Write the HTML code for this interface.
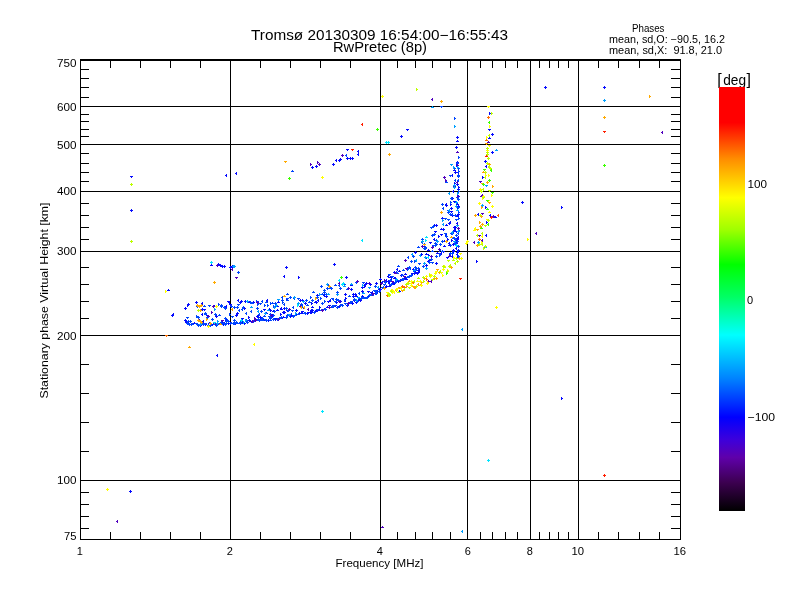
<!DOCTYPE html><html><head><meta charset="utf-8"><title>Ionogram</title><style>html,body{margin:0;padding:0;background:#fff;}svg{display:block;}</style></head><body><svg width="800" height="600" viewBox="0 0 800 600" font-family="'Liberation Sans', Arial, sans-serif" fill="#000"><defs><linearGradient id="cb" x1="0" y1="1" x2="0" y2="0"><stop offset="0.000" stop-color="rgb(0, 0, 0)"/><stop offset="0.067" stop-color="rgb(60, 0, 80)"/><stop offset="0.126" stop-color="rgb(95, 0, 170)"/><stop offset="0.169" stop-color="rgb(60, 0, 220)"/><stop offset="0.221" stop-color="rgb(0, 0, 255)"/><stop offset="0.312" stop-color="rgb(0, 130, 255)"/><stop offset="0.415" stop-color="rgb(0, 255, 255)"/><stop offset="0.505" stop-color="rgb(0, 255, 100)"/><stop offset="0.581" stop-color="rgb(0, 255, 0)"/><stop offset="0.664" stop-color="rgb(160, 255, 0)"/><stop offset="0.739" stop-color="rgb(255, 255, 0)"/><stop offset="0.831" stop-color="rgb(255, 140, 0)"/><stop offset="0.916" stop-color="rgb(255, 0, 0)"/><stop offset="1.000" stop-color="rgb(255, 0, 0)"/></linearGradient></defs><g shape-rendering="crispEdges"><rect x="80" y="59" width="601" height="2" fill="#000"/><rect x="80" y="59" width="1" height="481" fill="#000"/><rect x="680" y="59" width="1" height="481" fill="#000"/><rect x="80" y="539" width="601" height="1" fill="#000"/><rect x="230" y="61" width="1" height="478" fill="#000"/><rect x="380" y="61" width="1" height="478" fill="#000"/><rect x="467" y="61" width="1" height="478" fill="#000"/><rect x="530" y="61" width="1" height="478" fill="#000"/><rect x="578" y="61" width="1" height="478" fill="#000"/><rect x="81" y="106" width="599" height="1" fill="#000"/><rect x="81" y="144" width="599" height="1" fill="#000"/><rect x="81" y="191" width="599" height="1" fill="#000"/><rect x="81" y="251" width="599" height="1" fill="#000"/><rect x="81" y="335" width="599" height="1" fill="#000"/><rect x="81" y="480" width="599" height="1" fill="#000"/><rect x="81" y="69" width="8" height="1" fill="#000"/><rect x="671" y="69" width="9" height="1" fill="#000"/><rect x="81" y="78" width="8" height="1" fill="#000"/><rect x="671" y="78" width="9" height="1" fill="#000"/><rect x="81" y="87" width="8" height="1" fill="#000"/><rect x="671" y="87" width="9" height="1" fill="#000"/><rect x="81" y="97" width="8" height="1" fill="#000"/><rect x="671" y="97" width="9" height="1" fill="#000"/><rect x="81" y="114" width="8" height="1" fill="#000"/><rect x="671" y="114" width="9" height="1" fill="#000"/><rect x="81" y="121" width="8" height="1" fill="#000"/><rect x="671" y="121" width="9" height="1" fill="#000"/><rect x="81" y="129" width="8" height="1" fill="#000"/><rect x="671" y="129" width="9" height="1" fill="#000"/><rect x="81" y="136" width="8" height="1" fill="#000"/><rect x="671" y="136" width="9" height="1" fill="#000"/><rect x="81" y="153" width="8" height="1" fill="#000"/><rect x="671" y="153" width="9" height="1" fill="#000"/><rect x="81" y="163" width="8" height="1" fill="#000"/><rect x="671" y="163" width="9" height="1" fill="#000"/><rect x="81" y="172" width="8" height="1" fill="#000"/><rect x="671" y="172" width="9" height="1" fill="#000"/><rect x="81" y="181" width="8" height="1" fill="#000"/><rect x="671" y="181" width="9" height="1" fill="#000"/><rect x="81" y="203" width="8" height="1" fill="#000"/><rect x="671" y="203" width="9" height="1" fill="#000"/><rect x="81" y="215" width="8" height="1" fill="#000"/><rect x="671" y="215" width="9" height="1" fill="#000"/><rect x="81" y="227" width="8" height="1" fill="#000"/><rect x="671" y="227" width="9" height="1" fill="#000"/><rect x="81" y="239" width="8" height="1" fill="#000"/><rect x="671" y="239" width="9" height="1" fill="#000"/><rect x="81" y="267" width="8" height="1" fill="#000"/><rect x="671" y="267" width="9" height="1" fill="#000"/><rect x="81" y="284" width="8" height="1" fill="#000"/><rect x="671" y="284" width="9" height="1" fill="#000"/><rect x="81" y="301" width="8" height="1" fill="#000"/><rect x="671" y="301" width="9" height="1" fill="#000"/><rect x="81" y="318" width="8" height="1" fill="#000"/><rect x="671" y="318" width="9" height="1" fill="#000"/><rect x="81" y="364" width="8" height="1" fill="#000"/><rect x="671" y="364" width="9" height="1" fill="#000"/><rect x="81" y="393" width="8" height="1" fill="#000"/><rect x="671" y="393" width="9" height="1" fill="#000"/><rect x="81" y="422" width="8" height="1" fill="#000"/><rect x="671" y="422" width="9" height="1" fill="#000"/><rect x="81" y="451" width="8" height="1" fill="#000"/><rect x="671" y="451" width="9" height="1" fill="#000"/><rect x="81" y="492" width="8" height="1" fill="#000"/><rect x="671" y="492" width="9" height="1" fill="#000"/><rect x="81" y="504" width="8" height="1" fill="#000"/><rect x="671" y="504" width="9" height="1" fill="#000"/><rect x="81" y="516" width="8" height="1" fill="#000"/><rect x="671" y="516" width="9" height="1" fill="#000"/><rect x="81" y="528" width="8" height="1" fill="#000"/><rect x="671" y="528" width="9" height="1" fill="#000"/><rect x="110" y="532" width="1" height="7" fill="#000"/><rect x="110" y="61" width="1" height="7" fill="#000"/><rect x="140" y="532" width="1" height="7" fill="#000"/><rect x="140" y="61" width="1" height="7" fill="#000"/><rect x="170" y="532" width="1" height="7" fill="#000"/><rect x="170" y="61" width="1" height="7" fill="#000"/><rect x="200" y="532" width="1" height="7" fill="#000"/><rect x="200" y="61" width="1" height="7" fill="#000"/><rect x="260" y="532" width="1" height="7" fill="#000"/><rect x="260" y="61" width="1" height="7" fill="#000"/><rect x="290" y="532" width="1" height="7" fill="#000"/><rect x="290" y="61" width="1" height="7" fill="#000"/><rect x="320" y="532" width="1" height="7" fill="#000"/><rect x="320" y="61" width="1" height="7" fill="#000"/><rect x="350" y="532" width="1" height="7" fill="#000"/><rect x="350" y="61" width="1" height="7" fill="#000"/><rect x="397" y="532" width="1" height="7" fill="#000"/><rect x="397" y="61" width="1" height="7" fill="#000"/><rect x="415" y="532" width="1" height="7" fill="#000"/><rect x="415" y="61" width="1" height="7" fill="#000"/><rect x="432" y="532" width="1" height="7" fill="#000"/><rect x="432" y="61" width="1" height="7" fill="#000"/><rect x="450" y="532" width="1" height="7" fill="#000"/><rect x="450" y="61" width="1" height="7" fill="#000"/><rect x="480" y="532" width="1" height="7" fill="#000"/><rect x="480" y="61" width="1" height="7" fill="#000"/><rect x="492" y="532" width="1" height="7" fill="#000"/><rect x="492" y="61" width="1" height="7" fill="#000"/><rect x="505" y="532" width="1" height="7" fill="#000"/><rect x="505" y="61" width="1" height="7" fill="#000"/><rect x="517" y="532" width="1" height="7" fill="#000"/><rect x="517" y="61" width="1" height="7" fill="#000"/><rect x="539" y="532" width="1" height="7" fill="#000"/><rect x="539" y="61" width="1" height="7" fill="#000"/><rect x="549" y="532" width="1" height="7" fill="#000"/><rect x="549" y="61" width="1" height="7" fill="#000"/><rect x="558" y="532" width="1" height="7" fill="#000"/><rect x="558" y="61" width="1" height="7" fill="#000"/><rect x="568" y="532" width="1" height="7" fill="#000"/><rect x="568" y="61" width="1" height="7" fill="#000"/><rect x="598" y="532" width="1" height="7" fill="#000"/><rect x="598" y="61" width="1" height="7" fill="#000"/><rect x="618" y="532" width="1" height="7" fill="#000"/><rect x="618" y="61" width="1" height="7" fill="#000"/><rect x="639" y="532" width="1" height="7" fill="#000"/><rect x="639" y="61" width="1" height="7" fill="#000"/><rect x="659" y="532" width="1" height="7" fill="#000"/><rect x="659" y="61" width="1" height="7" fill="#000"/></g><g shape-rendering="crispEdges"><path fill="rgb(5,10,255)" d="M186 321h1v1h-1zM185 322h3v1h-3zM188 322h1v1h-1zM187 323h3v1h-3zM194 322h1v1h-1zM193 323h3v1h-3zM199 325h3v1h-3zM200 324h1v1h-1zM200 326h1v1h-1zM204 324h3v1h-3zM205 323h1v1h-1zM205 325h1v1h-1zM209 322h1v1h-1zM208 323h3v1h-3zM211 324h3v1h-3zM212 325h1v1h-1zM216 324h3v1h-3zM217 323h1v1h-1zM217 325h1v1h-1zM219 323h1v1h-1zM218 324h3v1h-3zM221 322h3v1h-3zM222 323h1v1h-1zM222 324h3v1h-3zM223 323h1v1h-1zM223 325h1v1h-1zM227 323h3v1h-3zM228 324h1v1h-1zM229 323h3v1h-3zM230 322h1v1h-1zM230 324h1v1h-1zM241 322h3v1h-3zM242 321h1v1h-1zM242 323h1v1h-1zM243 323h3v1h-3zM244 322h1v1h-1zM244 324h1v1h-1zM248 320h3v1h-3zM249 319h1v1h-1zM249 321h1v1h-1zM250 321h3v1h-3zM251 322h1v1h-1zM255 318h1v1h-1zM254 319h3v1h-3zM263 319h3v1h-3zM264 320h1v1h-1zM267 320h3v1h-3zM268 319h1v1h-1zM268 321h1v1h-1zM274 318h3v1h-3zM275 319h1v1h-1zM274 319h3v1h-3zM275 318h1v1h-1zM275 320h1v1h-1zM281 317h3v1h-3zM282 318h1v1h-1zM283 316h1v1h-1zM282 317h3v1h-3zM285 317h3v1h-3zM286 316h1v1h-1zM286 318h1v1h-1zM289 316h3v1h-3zM290 315h1v1h-1zM290 317h1v1h-1zM290 315h3v1h-3zM291 314h1v1h-1zM291 316h1v1h-1zM295 314h3v1h-3zM296 313h1v1h-1zM296 315h1v1h-1zM298 313h3v1h-3zM299 312h1v1h-1zM299 314h1v1h-1zM301 312h1v1h-1zM300 313h3v1h-3zM301 311h3v1h-3zM302 312h1v1h-1zM306 313h3v1h-3zM307 312h1v1h-1zM307 314h1v1h-1zM307 312h3v1h-3zM308 313h1v1h-1zM309 312h3v1h-3zM310 311h1v1h-1zM310 313h1v1h-1zM310 312h3v1h-3zM311 311h1v1h-1zM311 313h1v1h-1zM314 311h3v1h-3zM315 310h1v1h-1zM315 312h1v1h-1zM316 310h1v1h-1zM315 311h3v1h-3zM319 309h1v1h-1zM318 310h3v1h-3zM327 306h1v1h-1zM326 307h3v1h-3zM328 305h3v1h-3zM329 306h1v1h-1zM334 305h3v1h-3zM335 306h1v1h-1zM338 306h3v1h-3zM339 305h1v1h-1zM339 307h1v1h-1zM344 303h3v1h-3zM345 304h1v1h-1zM346 305h3v1h-3zM347 304h1v1h-1zM347 306h1v1h-1zM349 302h3v1h-3zM350 303h1v1h-1zM351 303h3v1h-3zM352 302h1v1h-1zM352 304h1v1h-1zM353 300h3v1h-3zM354 301h1v1h-1zM355 302h3v1h-3zM356 301h1v1h-1zM356 303h1v1h-1zM358 299h1v1h-1zM357 300h3v1h-3zM359 300h3v1h-3zM360 299h1v1h-1zM360 301h1v1h-1zM368 295h1v1h-1zM367 296h3v1h-3zM376 291h3v1h-3zM377 290h1v1h-1zM377 292h1v1h-1zM379 289h3v1h-3zM380 288h1v1h-1zM380 290h1v1h-1zM384 287h3v1h-3zM385 288h1v1h-1zM386 285h1v1h-1zM385 286h3v1h-3zM389 285h1v1h-1zM388 286h3v1h-3zM392 283h3v1h-3zM393 282h1v1h-1zM393 284h1v1h-1zM394 282h1v1h-1zM393 283h3v1h-3zM397 281h3v1h-3zM398 282h1v1h-1zM399 280h3v1h-3zM400 279h1v1h-1zM400 281h1v1h-1zM404 278h3v1h-3zM405 277h1v1h-1zM405 279h1v1h-1zM406 278h1v1h-1zM405 279h3v1h-3zM408 276h1v1h-1zM407 277h3v1h-3zM411 273h3v1h-3zM412 274h1v1h-1zM413 273h3v1h-3zM414 272h1v1h-1zM414 274h1v1h-1zM414 272h3v1h-3zM415 271h1v1h-1zM415 273h1v1h-1zM416 273h3v1h-3zM417 274h1v1h-1zM417 272h3v1h-3zM418 271h1v1h-1zM418 273h1v1h-1zM184 320h3v1h-3zM185 319h1v1h-1zM185 321h1v1h-1zM184 308h3v1h-3zM185 307h1v1h-1zM185 309h1v1h-1zM187 304h1v3h-1zM188 305h1v1h-1zM187 304h3v1h-3zM188 303h1v1h-1zM188 305h1v1h-1zM195 302h3v1h-3zM196 301h1v1h-1zM196 303h1v1h-1zM198 320h1v1h-1zM199 319h1v3h-1zM198 320h1v1h-1zM199 319h1v3h-1zM200 324h3v1h-3zM201 323h1v1h-1zM201 325h1v1h-1zM201 314h1v1h-1zM202 313h1v3h-1zM201 303h1v1h-1zM202 302h1v3h-1zM201 309h3v1h-3zM202 308h1v1h-1zM202 310h1v1h-1zM202 321h1v1h-1zM203 320h1v3h-1zM203 309h3v1h-3zM204 310h1v1h-1zM206 315h3v1h-3zM207 316h1v1h-1zM214 305h1v1h-1zM213 306h3v1h-3zM215 316h3v1h-3zM216 315h1v1h-1zM216 317h1v1h-1zM223 323h1v1h-1zM224 322h1v3h-1zM225 306h1v1h-1zM226 305h1v3h-1zM225 320h1v1h-1zM226 319h1v3h-1zM227 301h3v1h-3zM228 302h1v1h-1zM228 302h1v1h-1zM229 301h1v3h-1zM229 304h3v1h-3zM230 305h1v1h-1zM234 323h3v1h-3zM235 322h1v1h-1zM235 324h1v1h-1zM235 315h3v1h-3zM236 314h1v1h-1zM236 316h1v1h-1zM236 313h3v1h-3zM237 312h1v1h-1zM237 314h1v1h-1zM237 300h1v1h-1zM238 299h1v3h-1zM239 302h1v1h-1zM240 301h1v3h-1zM240 301h3v1h-3zM241 300h1v1h-1zM241 302h1v1h-1zM241 318h3v1h-3zM242 319h1v1h-1zM243 308h3v1h-3zM244 307h1v1h-1zM244 309h1v1h-1zM244 301h3v1h-3zM245 300h1v1h-1zM245 302h1v1h-1zM248 316h1v3h-1zM249 317h1v1h-1zM249 301h1v1h-1zM248 302h3v1h-3zM252 302h3v1h-3zM253 301h1v1h-1zM253 303h1v1h-1zM254 319h1v3h-1zM255 320h1v1h-1zM254 319h1v1h-1zM255 318h1v3h-1zM256 316h3v1h-3zM257 315h1v1h-1zM257 317h1v1h-1zM258 316h1v1h-1zM257 317h3v1h-3zM257 315h3v1h-3zM258 316h1v1h-1zM259 317h3v1h-3zM260 316h1v1h-1zM260 318h1v1h-1zM260 319h3v1h-3zM261 318h1v1h-1zM261 320h1v1h-1zM263 309h3v1h-3zM264 310h1v1h-1zM266 312h1v1h-1zM265 313h3v1h-3zM266 300h1v1h-1zM267 299h1v3h-1zM269 308h1v1h-1zM268 309h3v1h-3zM270 309h1v3h-1zM271 310h1v1h-1zM271 315h3v1h-3zM272 314h1v1h-1zM272 316h1v1h-1zM273 310h1v1h-1zM272 311h3v1h-3zM277 305h1v1h-1zM276 306h3v1h-3zM277 309h1v1h-1zM276 310h3v1h-3zM278 301h1v1h-1zM277 302h3v1h-3zM280 313h1v3h-1zM281 314h1v1h-1zM280 308h1v1h-1zM281 307h1v3h-1zM281 308h1v1h-1zM280 309h3v1h-3zM282 312h3v1h-3zM283 311h1v1h-1zM283 313h1v1h-1zM284 311h1v3h-1zM285 312h1v1h-1zM283 308h3v1h-3zM284 307h1v1h-1zM284 309h1v1h-1zM286 298h1v3h-1zM287 299h1v1h-1zM286 310h3v1h-3zM287 311h1v1h-1zM287 310h3v1h-3zM288 311h1v1h-1zM290 314h1v1h-1zM291 313h1v3h-1zM295 310h3v1h-3zM296 309h1v1h-1zM296 311h1v1h-1zM299 300h3v1h-3zM300 299h1v1h-1zM300 301h1v1h-1zM302 299h1v3h-1zM303 300h1v1h-1zM302 307h3v1h-3zM303 308h1v1h-1zM304 303h3v1h-3zM305 302h1v1h-1zM305 304h1v1h-1zM310 310h1v3h-1zM311 311h1v1h-1zM310 310h3v1h-3zM311 309h1v1h-1zM311 311h1v1h-1zM311 302h1v3h-1zM312 303h1v1h-1zM312 309h1v3h-1zM313 310h1v1h-1zM312 306h1v1h-1zM311 307h3v1h-3zM315 301h1v1h-1zM314 302h3v1h-3zM316 301h1v3h-1zM317 302h1v1h-1zM316 295h3v1h-3zM317 294h1v1h-1zM317 296h1v1h-1zM317 300h1v1h-1zM318 299h1v3h-1zM319 306h1v3h-1zM320 307h1v1h-1zM323 295h1v1h-1zM324 294h1v3h-1zM325 296h3v1h-3zM326 295h1v1h-1zM326 297h1v1h-1zM327 301h3v1h-3zM328 302h1v1h-1zM329 300h1v1h-1zM330 299h1v3h-1zM336 301h1v3h-1zM337 302h1v1h-1zM339 301h3v1h-3zM340 300h1v1h-1zM340 302h1v1h-1zM340 304h3v1h-3zM341 305h1v1h-1zM344 294h3v1h-3zM345 293h1v1h-1zM345 295h1v1h-1zM345 297h1v3h-1zM346 298h1v1h-1zM344 300h1v1h-1zM345 299h1v3h-1zM350 289h3v1h-3zM351 288h1v1h-1zM351 290h1v1h-1zM351 284h1v1h-1zM350 285h3v1h-3zM352 296h3v1h-3zM353 295h1v1h-1zM353 297h1v1h-1zM352 294h3v1h-3zM353 293h1v1h-1zM353 295h1v1h-1zM353 300h3v1h-3zM354 299h1v1h-1zM354 301h1v1h-1zM354 294h3v1h-3zM355 293h1v1h-1zM355 295h1v1h-1zM356 295h1v1h-1zM355 296h3v1h-3zM358 298h1v1h-1zM359 297h1v3h-1zM361 291h3v1h-3zM362 290h1v1h-1zM362 292h1v1h-1zM361 287h3v1h-3zM362 288h1v1h-1zM362 295h1v3h-1zM363 296h1v1h-1zM364 285h1v3h-1zM365 286h1v1h-1zM364 284h3v1h-3zM365 283h1v1h-1zM365 285h1v1h-1zM366 282h1v1h-1zM365 283h3v1h-3zM367 291h3v1h-3zM368 292h1v1h-1zM369 284h3v1h-3zM370 283h1v1h-1zM370 285h1v1h-1zM370 292h3v1h-3zM371 293h1v1h-1zM371 292h1v1h-1zM372 291h1v3h-1zM375 292h1v1h-1zM374 293h3v1h-3zM375 283h3v1h-3zM376 282h1v1h-1zM376 284h1v1h-1zM379 290h1v1h-1zM378 291h3v1h-3zM379 288h1v1h-1zM378 289h3v1h-3zM380 278h1v1h-1zM379 279h3v1h-3zM381 282h1v1h-1zM382 281h1v3h-1zM385 280h1v1h-1zM386 279h1v3h-1zM387 276h1v1h-1zM388 275h1v3h-1zM387 281h3v1h-3zM388 280h1v1h-1zM388 282h1v1h-1zM388 283h1v1h-1zM389 282h1v3h-1zM390 276h1v1h-1zM389 277h3v1h-3zM390 279h1v1h-1zM391 278h1v3h-1zM393 283h1v1h-1zM394 282h1v3h-1zM394 277h1v1h-1zM393 278h3v1h-3zM393 272h3v1h-3zM394 271h1v1h-1zM394 273h1v1h-1zM395 277h1v3h-1zM396 278h1v1h-1zM396 269h1v1h-1zM397 268h1v3h-1zM399 270h1v1h-1zM398 271h3v1h-3zM400 275h1v1h-1zM401 274h1v3h-1zM405 273h1v1h-1zM404 274h3v1h-3zM412 269h1v1h-1zM413 268h1v3h-1zM414 252h3v1h-3zM415 251h1v1h-1zM415 253h1v1h-1zM417 270h3v1h-3zM418 269h1v1h-1zM418 271h1v1h-1zM418 270h1v1h-1zM419 269h1v3h-1zM420 254h3v1h-3zM421 253h1v1h-1zM421 255h1v1h-1zM423 246h1v1h-1zM424 245h1v3h-1zM424 248h3v1h-3zM425 249h1v1h-1zM425 265h3v1h-3zM426 264h1v1h-1zM426 266h1v1h-1zM425 257h3v1h-3zM426 258h1v1h-1zM426 253h1v1h-1zM425 254h3v1h-3zM427 261h3v1h-3zM428 262h1v1h-1zM428 260h3v1h-3zM429 259h1v1h-1zM429 261h1v1h-1zM429 242h3v1h-3zM430 243h1v1h-1zM433 239h1v1h-1zM434 238h1v3h-1zM435 263h3v1h-3zM436 262h1v1h-1zM436 264h1v1h-1zM437 252h1v1h-1zM436 253h3v1h-3zM440 234h3v1h-3zM441 235h1v1h-1zM442 251h3v1h-3zM443 252h1v1h-1zM444 245h1v1h-1zM443 246h3v1h-3zM444 240h1v1h-1zM443 241h3v1h-3zM445 233h1v3h-1zM446 234h1v1h-1zM446 257h3v1h-3zM447 258h1v1h-1zM447 238h1v3h-1zM448 239h1v1h-1zM448 243h1v1h-1zM449 242h1v3h-1zM451 239h1v3h-1zM452 240h1v1h-1zM452 251h3v1h-3zM453 250h1v1h-1zM453 252h1v1h-1zM452 250h3v1h-3zM453 249h1v1h-1zM453 251h1v1h-1zM455 231h3v1h-3zM456 232h1v1h-1zM456 238h1v3h-1zM457 239h1v1h-1zM456 137h3v1h-3zM457 136h1v1h-1zM457 138h1v1h-1zM457 140h1v1h-1zM456 141h3v1h-3zM455 147h3v1h-3zM456 146h1v1h-1zM456 148h1v1h-1zM456 162h3v1h-3zM457 161h1v1h-1zM457 163h1v1h-1zM456 164h1v3h-1zM457 165h1v1h-1zM454 169h1v1h-1zM453 170h3v1h-3zM457 172h1v1h-1zM458 171h1v3h-1zM454 172h3v1h-3zM455 171h1v1h-1zM455 173h1v1h-1zM451 175h1v1h-1zM452 174h1v3h-1zM454 182h1v3h-1zM455 183h1v1h-1zM456 184h3v1h-3zM457 185h1v1h-1zM458 186h1v3h-1zM459 187h1v1h-1zM457 189h3v1h-3zM458 188h1v1h-1zM458 190h1v1h-1zM452 191h1v1h-1zM453 190h1v3h-1zM458 195h1v3h-1zM459 196h1v1h-1zM451 198h3v1h-3zM452 197h1v1h-1zM452 199h1v1h-1zM453 201h3v1h-3zM454 202h1v1h-1zM457 203h1v1h-1zM456 204h3v1h-3zM445 204h1v1h-1zM446 203h1v3h-1zM450 203h1v3h-1zM451 204h1v1h-1zM457 206h3v1h-3zM458 205h1v1h-1zM458 207h1v1h-1zM445 205h3v1h-3zM446 206h1v1h-1zM456 207h3v1h-3zM457 206h1v1h-1zM457 208h1v1h-1zM450 208h3v1h-3zM451 207h1v1h-1zM451 209h1v1h-1zM450 211h3v1h-3zM451 212h1v1h-1zM457 214h3v1h-3zM458 213h1v1h-1zM458 215h1v1h-1zM457 215h1v1h-1zM456 216h3v1h-3zM451 215h3v1h-3zM452 216h1v1h-1zM442 217h1v1h-1zM441 218h3v1h-3zM456 223h1v1h-1zM457 222h1v3h-1zM448 223h3v1h-3zM449 222h1v1h-1zM449 224h1v1h-1zM449 222h1v1h-1zM450 221h1v3h-1zM446 224h1v1h-1zM445 225h3v1h-3zM434 224h1v3h-1zM435 225h1v1h-1zM455 226h1v3h-1zM456 227h1v1h-1zM435 225h3v1h-3zM436 224h1v1h-1zM436 226h1v1h-1zM453 227h3v1h-3zM454 226h1v1h-1zM454 228h1v1h-1zM441 228h1v1h-1zM440 229h3v1h-3zM442 229h3v1h-3zM443 228h1v1h-1zM443 230h1v1h-1zM454 229h1v1h-1zM455 228h1v3h-1zM458 230h1v3h-1zM459 231h1v1h-1zM453 230h3v1h-3zM454 229h1v1h-1zM454 231h1v1h-1zM434 231h3v1h-3zM435 232h1v1h-1zM455 235h3v1h-3zM456 234h1v1h-1zM456 236h1v1h-1zM455 235h1v1h-1zM456 234h1v3h-1zM457 237h1v1h-1zM458 236h1v3h-1zM438 235h1v3h-1zM439 236h1v1h-1zM457 238h1v3h-1zM458 239h1v1h-1zM456 240h1v1h-1zM455 241h3v1h-3zM455 240h3v1h-3zM456 239h1v1h-1zM456 241h1v1h-1zM455 243h3v1h-3zM456 242h1v1h-1zM456 244h1v1h-1zM452 244h3v1h-3zM453 243h1v1h-1zM453 245h1v1h-1zM449 244h1v1h-1zM448 245h3v1h-3zM455 248h1v1h-1zM456 247h1v3h-1zM457 250h3v1h-3zM458 249h1v1h-1zM458 251h1v1h-1zM428 249h1v1h-1zM427 250h3v1h-3zM457 251h1v1h-1zM456 252h3v1h-3zM440 253h1v1h-1zM441 252h1v3h-1zM456 254h1v1h-1zM457 253h1v3h-1zM449 254h1v3h-1zM450 255h1v1h-1zM428 254h1v3h-1zM429 255h1v1h-1zM456 257h1v1h-1zM457 256h1v3h-1zM451 256h1v1h-1zM452 255h1v3h-1zM399 290h1v3h-1zM400 291h1v1h-1zM489 112h1v3h-1zM490 113h1v1h-1zM488 129h3v1h-3zM489 130h1v1h-1zM484 161h3v1h-3zM485 160h1v1h-1zM485 162h1v1h-1zM485 166h1v1h-1zM486 165h1v3h-1zM482 176h1v3h-1zM483 177h1v1h-1zM485 206h1v3h-1zM486 207h1v1h-1zM477 214h1v1h-1zM478 213h1v3h-1zM486 221h1v3h-1zM487 222h1v1h-1zM485 235h1v1h-1zM486 234h1v3h-1zM130 176h3v1h-3zM131 177h1v1h-1zM130 210h3v1h-3zM131 209h1v1h-1zM131 211h1v1h-1zM225 175h1v1h-1zM226 174h1v3h-1zM235 173h1v1h-1zM236 172h1v3h-1zM311 167h3v1h-3zM312 166h1v1h-1zM312 168h1v1h-1zM315 166h3v1h-3zM316 165h1v1h-1zM316 167h1v1h-1zM332 164h3v1h-3zM333 163h1v1h-1zM333 165h1v1h-1zM335 160h1v1h-1zM336 159h1v3h-1zM338 160h3v1h-3zM339 159h1v1h-1zM339 161h1v1h-1zM340 158h1v3h-1zM341 159h1v1h-1zM346 149h3v1h-3zM347 150h1v1h-1zM346 158h3v1h-3zM347 157h1v1h-1zM347 159h1v1h-1zM349 158h3v1h-3zM350 157h1v1h-1zM350 159h1v1h-1zM351 158h3v1h-3zM352 157h1v1h-1zM352 159h1v1h-1zM357 154h1v1h-1zM358 153h1v3h-1zM357 151h1v1h-1zM358 150h1v3h-1zM406 129h3v1h-3zM407 130h1v1h-1zM400 136h3v1h-3zM401 135h1v1h-1zM401 137h1v1h-1zM544 87h3v1h-3zM545 86h1v1h-1zM545 88h1v1h-1zM603 87h3v1h-3zM604 86h1v1h-1zM604 88h1v1h-1zM521 202h3v1h-3zM522 201h1v1h-1zM522 203h1v1h-1zM561 206h1v3h-1zM562 207h1v1h-1zM561 397h1v3h-1zM562 398h1v1h-1zM476 260h1v3h-1zM477 261h1v1h-1zM491 134h3v1h-3zM492 133h1v1h-1zM492 135h1v1h-1zM491 152h3v1h-3zM492 151h1v1h-1zM492 153h1v1h-1zM489 137h1v1h-1zM488 138h3v1h-3zM216 355h1v1h-1zM217 354h1v3h-1zM129 491h3v1h-3zM130 490h1v1h-1zM130 492h1v1h-1zM171 315h1v1h-1zM172 314h1v3h-1zM172 314h1v1h-1zM173 313h1v3h-1zM211 264h1v1h-1zM210 265h3v1h-3zM217 264h3v1h-3zM218 263h1v1h-1zM218 265h1v1h-1zM219 265h3v1h-3zM220 264h1v1h-1zM220 266h1v1h-1zM221 266h3v1h-3zM222 265h1v1h-1zM222 267h1v1h-1zM223 266h3v1h-3zM224 265h1v1h-1zM224 267h1v1h-1zM229 267h3v1h-3zM230 266h1v1h-1zM230 268h1v1h-1zM231 266h3v1h-3zM232 265h1v1h-1zM232 267h1v1h-1zM168 289h1v1h-1zM167 290h3v1h-3zM285 267h3v1h-3zM286 266h1v1h-1zM286 268h1v1h-1zM283 276h1v1h-1zM284 275h1v3h-1zM298 276h1v3h-1zM299 277h1v1h-1zM333 264h3v1h-3zM334 263h1v1h-1zM334 265h1v1h-1zM345 277h3v1h-3zM346 276h1v1h-1zM346 278h1v1h-1zM489 215h1v1h-1zM490 214h1v3h-1zM495 216h1v1h-1zM494 217h3v1h-3z"/><path fill="rgb(0,70,255)" d="M186 323h3v1h-3zM187 322h1v1h-1zM187 324h1v1h-1zM188 324h3v1h-3zM189 323h1v1h-1zM189 325h1v1h-1zM190 324h3v1h-3zM191 323h1v1h-1zM191 325h1v1h-1zM192 323h1v1h-1zM191 324h3v1h-3zM195 323h3v1h-3zM196 324h1v1h-1zM196 324h3v1h-3zM197 323h1v1h-1zM197 325h1v1h-1zM197 325h3v1h-3zM198 324h1v1h-1zM198 326h1v1h-1zM200 323h3v1h-3zM201 322h1v1h-1zM201 324h1v1h-1zM202 324h3v1h-3zM203 323h1v1h-1zM203 325h1v1h-1zM204 323h3v1h-3zM205 324h1v1h-1zM207 325h3v1h-3zM208 324h1v1h-1zM208 326h1v1h-1zM209 325h3v1h-3zM210 324h1v1h-1zM210 326h1v1h-1zM214 323h1v1h-1zM213 324h3v1h-3zM215 325h3v1h-3zM216 324h1v1h-1zM216 326h1v1h-1zM221 323h1v1h-1zM220 324h3v1h-3zM224 324h3v1h-3zM225 323h1v1h-1zM225 325h1v1h-1zM225 323h3v1h-3zM226 322h1v1h-1zM226 324h1v1h-1zM231 322h1v1h-1zM230 323h3v1h-3zM232 323h3v1h-3zM233 322h1v1h-1zM233 324h1v1h-1zM233 323h3v1h-3zM234 322h1v1h-1zM234 324h1v1h-1zM236 321h1v1h-1zM235 322h3v1h-3zM237 322h1v1h-1zM236 323h3v1h-3zM239 323h3v1h-3zM240 322h1v1h-1zM240 324h1v1h-1zM239 322h3v1h-3zM240 321h1v1h-1zM240 323h1v1h-1zM245 320h3v1h-3zM246 319h1v1h-1zM246 321h1v1h-1zM246 322h3v1h-3zM247 321h1v1h-1zM247 323h1v1h-1zM252 321h3v1h-3zM253 320h1v1h-1zM253 322h1v1h-1zM257 319h3v1h-3zM258 318h1v1h-1zM258 320h1v1h-1zM258 319h1v1h-1zM257 320h3v1h-3zM259 319h3v1h-3zM260 320h1v1h-1zM262 319h1v1h-1zM261 320h3v1h-3zM262 317h1v1h-1zM261 318h3v1h-3zM264 319h3v1h-3zM265 320h1v1h-1zM265 320h3v1h-3zM266 319h1v1h-1zM266 321h1v1h-1zM270 319h1v1h-1zM269 320h3v1h-3zM269 318h3v1h-3zM270 317h1v1h-1zM270 319h1v1h-1zM272 319h3v1h-3zM273 318h1v1h-1zM273 320h1v1h-1zM276 319h3v1h-3zM277 318h1v1h-1zM277 320h1v1h-1zM278 318h3v1h-3zM279 317h1v1h-1zM279 319h1v1h-1zM280 317h3v1h-3zM281 316h1v1h-1zM281 318h1v1h-1zM285 317h3v1h-3zM286 316h1v1h-1zM286 318h1v1h-1zM286 315h3v1h-3zM287 314h1v1h-1zM287 316h1v1h-1zM288 315h3v1h-3zM289 316h1v1h-1zM292 316h3v1h-3zM293 315h1v1h-1zM293 317h1v1h-1zM295 314h1v1h-1zM294 315h3v1h-3zM298 313h1v1h-1zM297 314h3v1h-3zM304 312h1v1h-1zM303 313h3v1h-3zM304 313h3v1h-3zM305 312h1v1h-1zM305 314h1v1h-1zM313 312h3v1h-3zM314 311h1v1h-1zM314 313h1v1h-1zM316 309h3v1h-3zM317 310h1v1h-1zM321 309h1v1h-1zM320 310h3v1h-3zM324 308h1v1h-1zM323 309h3v1h-3zM324 309h3v1h-3zM325 308h1v1h-1zM325 310h1v1h-1zM331 306h3v1h-3zM332 305h1v1h-1zM332 307h1v1h-1zM332 306h1v1h-1zM331 307h3v1h-3zM333 305h3v1h-3zM334 306h1v1h-1zM336 307h3v1h-3zM337 306h1v1h-1zM337 308h1v1h-1zM339 305h3v1h-3zM340 304h1v1h-1zM340 306h1v1h-1zM340 304h3v1h-3zM341 305h1v1h-1zM341 305h3v1h-3zM342 306h1v1h-1zM344 303h3v1h-3zM345 304h1v1h-1zM356 301h3v1h-3zM357 300h1v1h-1zM357 302h1v1h-1zM360 298h3v1h-3zM361 297h1v1h-1zM361 299h1v1h-1zM362 297h3v1h-3zM363 298h1v1h-1zM365 297h1v1h-1zM364 298h3v1h-3zM366 297h3v1h-3zM367 296h1v1h-1zM367 298h1v1h-1zM368 295h3v1h-3zM369 294h1v1h-1zM369 296h1v1h-1zM369 294h3v1h-3zM370 295h1v1h-1zM372 294h1v1h-1zM371 295h3v1h-3zM374 293h3v1h-3zM375 292h1v1h-1zM375 294h1v1h-1zM375 293h3v1h-3zM376 292h1v1h-1zM376 294h1v1h-1zM378 291h3v1h-3zM379 290h1v1h-1zM379 292h1v1h-1zM381 287h3v1h-3zM382 288h1v1h-1zM389 284h3v1h-3zM390 285h1v1h-1zM390 284h3v1h-3zM391 283h1v1h-1zM391 285h1v1h-1zM394 282h3v1h-3zM395 281h1v1h-1zM395 283h1v1h-1zM395 280h3v1h-3zM396 279h1v1h-1zM396 281h1v1h-1zM398 280h3v1h-3zM399 281h1v1h-1zM401 279h3v1h-3zM402 278h1v1h-1zM402 280h1v1h-1zM402 279h3v1h-3zM403 278h1v1h-1zM403 280h1v1h-1zM407 276h1v1h-1zM406 277h3v1h-3zM408 276h3v1h-3zM409 275h1v1h-1zM409 277h1v1h-1zM410 275h3v1h-3zM411 274h1v1h-1zM411 276h1v1h-1zM186 317h3v1h-3zM187 318h1v1h-1zM188 320h1v1h-1zM187 321h3v1h-3zM190 320h1v3h-1zM191 321h1v1h-1zM196 315h1v3h-1zM197 316h1v1h-1zM196 306h3v1h-3zM197 307h1v1h-1zM197 317h3v1h-3zM198 316h1v1h-1zM198 318h1v1h-1zM200 323h1v1h-1zM201 322h1v3h-1zM204 305h1v1h-1zM203 306h3v1h-3zM205 313h1v1h-1zM204 314h3v1h-3zM204 313h3v1h-3zM205 312h1v1h-1zM205 314h1v1h-1zM206 317h3v1h-3zM207 318h1v1h-1zM208 305h3v1h-3zM209 306h1v1h-1zM210 323h1v3h-1zM211 324h1v1h-1zM211 319h3v1h-3zM212 318h1v1h-1zM212 320h1v1h-1zM214 314h3v1h-3zM215 313h1v1h-1zM215 315h1v1h-1zM218 303h1v3h-1zM219 304h1v1h-1zM219 314h1v1h-1zM218 315h3v1h-3zM220 306h3v1h-3zM221 305h1v1h-1zM221 307h1v1h-1zM220 305h3v1h-3zM221 304h1v1h-1zM221 306h1v1h-1zM220 322h1v1h-1zM221 321h1v3h-1zM223 322h1v1h-1zM222 323h3v1h-3zM223 307h3v1h-3zM224 306h1v1h-1zM224 308h1v1h-1zM224 318h3v1h-3zM225 317h1v1h-1zM225 319h1v1h-1zM224 308h3v1h-3zM225 307h1v1h-1zM225 309h1v1h-1zM226 320h1v1h-1zM225 321h3v1h-3zM227 319h1v3h-1zM228 320h1v1h-1zM228 320h1v3h-1zM229 321h1v1h-1zM229 313h1v3h-1zM230 314h1v1h-1zM230 306h3v1h-3zM231 305h1v1h-1zM231 307h1v1h-1zM231 316h3v1h-3zM232 317h1v1h-1zM233 307h3v1h-3zM234 306h1v1h-1zM234 308h1v1h-1zM234 319h1v1h-1zM233 320h3v1h-3zM233 322h1v1h-1zM234 321h1v3h-1zM236 307h3v1h-3zM237 306h1v1h-1zM237 308h1v1h-1zM237 304h3v1h-3zM238 305h1v1h-1zM238 310h1v1h-1zM239 309h1v3h-1zM241 309h1v1h-1zM242 308h1v3h-1zM242 307h1v1h-1zM243 306h1v3h-1zM245 313h1v1h-1zM246 312h1v3h-1zM250 301h1v3h-1zM251 302h1v1h-1zM250 311h1v1h-1zM251 310h1v3h-1zM252 302h1v1h-1zM251 303h3v1h-3zM256 300h1v3h-1zM257 301h1v1h-1zM257 303h1v3h-1zM258 304h1v1h-1zM256 308h3v1h-3zM257 307h1v1h-1zM257 309h1v1h-1zM257 302h1v1h-1zM258 301h1v3h-1zM258 320h3v1h-3zM259 319h1v1h-1zM259 321h1v1h-1zM258 314h1v1h-1zM259 313h1v3h-1zM259 303h3v1h-3zM260 304h1v1h-1zM260 311h3v1h-3zM261 310h1v1h-1zM261 312h1v1h-1zM261 301h1v1h-1zM262 300h1v3h-1zM264 315h1v1h-1zM263 316h3v1h-3zM264 304h1v3h-1zM265 305h1v1h-1zM266 301h1v1h-1zM265 302h3v1h-3zM267 304h1v3h-1zM268 305h1v1h-1zM268 316h3v1h-3zM269 317h1v1h-1zM270 302h1v3h-1zM271 303h1v1h-1zM269 314h3v1h-3zM270 313h1v1h-1zM270 315h1v1h-1zM270 317h3v1h-3zM271 316h1v1h-1zM271 318h1v1h-1zM272 302h1v1h-1zM271 303h3v1h-3zM273 305h1v3h-1zM274 306h1v1h-1zM272 315h3v1h-3zM273 314h1v1h-1zM273 316h1v1h-1zM274 310h1v3h-1zM275 311h1v1h-1zM274 303h3v1h-3zM275 302h1v1h-1zM275 304h1v1h-1zM275 305h1v1h-1zM274 306h3v1h-3zM282 299h1v1h-1zM281 300h3v1h-3zM282 301h1v3h-1zM283 302h1v1h-1zM281 297h1v1h-1zM282 296h1v3h-1zM283 304h1v1h-1zM284 303h1v3h-1zM285 308h3v1h-3zM286 307h1v1h-1zM286 309h1v1h-1zM286 298h3v1h-3zM287 299h1v1h-1zM287 299h1v1h-1zM286 300h3v1h-3zM287 293h1v1h-1zM286 294h3v1h-3zM287 310h1v1h-1zM288 309h1v3h-1zM289 297h3v1h-3zM290 296h1v1h-1zM290 298h1v1h-1zM291 310h3v1h-3zM292 311h1v1h-1zM292 307h1v1h-1zM293 306h1v3h-1zM293 298h1v1h-1zM294 297h1v3h-1zM297 298h3v1h-3zM298 299h1v1h-1zM300 304h3v1h-3zM301 303h1v1h-1zM301 305h1v1h-1zM301 306h1v1h-1zM302 305h1v3h-1zM305 300h3v1h-3zM306 299h1v1h-1zM306 301h1v1h-1zM307 304h1v1h-1zM306 305h3v1h-3zM309 301h1v1h-1zM308 302h3v1h-3zM310 296h1v3h-1zM311 297h1v1h-1zM311 300h3v1h-3zM312 299h1v1h-1zM312 301h1v1h-1zM313 291h1v1h-1zM312 292h3v1h-3zM316 297h3v1h-3zM317 296h1v1h-1zM317 298h1v1h-1zM320 297h1v3h-1zM321 298h1v1h-1zM320 286h3v1h-3zM321 285h1v1h-1zM321 287h1v1h-1zM322 293h1v1h-1zM321 294h3v1h-3zM321 303h3v1h-3zM322 302h1v1h-1zM322 304h1v1h-1zM323 292h3v1h-3zM324 291h1v1h-1zM324 293h1v1h-1zM324 300h1v3h-1zM325 301h1v1h-1zM324 289h1v1h-1zM323 290h3v1h-3zM325 294h1v1h-1zM326 293h1v3h-1zM326 288h3v1h-3zM327 287h1v1h-1zM327 289h1v1h-1zM327 285h3v1h-3zM328 284h1v1h-1zM328 286h1v1h-1zM330 287h1v1h-1zM329 288h3v1h-3zM330 288h3v1h-3zM331 287h1v1h-1zM331 289h1v1h-1zM331 298h3v1h-3zM332 299h1v1h-1zM332 299h1v1h-1zM333 298h1v3h-1zM334 301h3v1h-3zM335 302h1v1h-1zM335 284h1v1h-1zM334 285h3v1h-3zM335 299h3v1h-3zM336 298h1v1h-1zM336 300h1v1h-1zM336 292h3v1h-3zM337 291h1v1h-1zM337 293h1v1h-1zM337 300h3v1h-3zM338 299h1v1h-1zM338 301h1v1h-1zM338 285h1v1h-1zM339 284h1v3h-1zM339 288h3v1h-3zM340 287h1v1h-1zM340 289h1v1h-1zM343 284h3v1h-3zM344 283h1v1h-1zM344 285h1v1h-1zM344 299h1v3h-1zM345 300h1v1h-1zM347 303h1v3h-1zM348 304h1v1h-1zM347 288h1v1h-1zM346 289h3v1h-3zM349 295h1v1h-1zM348 296h3v1h-3zM349 302h3v1h-3zM350 301h1v1h-1zM350 303h1v1h-1zM350 301h3v1h-3zM351 302h1v1h-1zM353 299h3v1h-3zM354 298h1v1h-1zM354 300h1v1h-1zM356 299h1v1h-1zM355 300h3v1h-3zM355 282h3v1h-3zM356 283h1v1h-1zM356 281h3v1h-3zM357 282h1v1h-1zM358 293h1v1h-1zM359 292h1v3h-1zM359 298h3v1h-3zM360 299h1v1h-1zM361 296h1v3h-1zM362 297h1v1h-1zM362 282h3v1h-3zM363 283h1v1h-1zM373 290h3v1h-3zM374 291h1v1h-1zM374 286h3v1h-3zM375 285h1v1h-1zM375 287h1v1h-1zM375 291h3v1h-3zM376 290h1v1h-1zM376 292h1v1h-1zM382 287h3v1h-3zM383 286h1v1h-1zM383 288h1v1h-1zM383 284h3v1h-3zM384 285h1v1h-1zM383 281h3v1h-3zM384 280h1v1h-1zM384 282h1v1h-1zM384 282h3v1h-3zM385 281h1v1h-1zM385 283h1v1h-1zM388 274h3v1h-3zM389 275h1v1h-1zM389 280h1v1h-1zM390 279h1v3h-1zM389 280h3v1h-3zM390 279h1v1h-1zM390 281h1v1h-1zM391 276h3v1h-3zM392 277h1v1h-1zM396 271h1v1h-1zM395 272h3v1h-3zM397 272h1v1h-1zM396 273h3v1h-3zM398 265h1v1h-1zM397 266h3v1h-3zM402 274h1v1h-1zM401 275h3v1h-3zM403 269h1v1h-1zM402 270h3v1h-3zM407 267h1v3h-1zM408 268h1v1h-1zM406 269h3v1h-3zM407 268h1v1h-1zM407 270h1v1h-1zM407 257h1v1h-1zM408 256h1v3h-1zM408 267h1v1h-1zM409 266h1v3h-1zM409 268h1v1h-1zM410 267h1v3h-1zM410 261h3v1h-3zM411 260h1v1h-1zM411 262h1v1h-1zM412 256h3v1h-3zM413 255h1v1h-1zM413 257h1v1h-1zM413 271h1v1h-1zM414 270h1v3h-1zM414 260h1v3h-1zM415 261h1v1h-1zM414 267h3v1h-3zM415 266h1v1h-1zM415 268h1v1h-1zM415 269h1v1h-1zM416 268h1v3h-1zM417 268h3v1h-3zM418 267h1v1h-1zM418 269h1v1h-1zM418 246h1v1h-1zM417 247h3v1h-3zM418 263h3v1h-3zM419 264h1v1h-1zM421 242h1v1h-1zM422 241h1v3h-1zM422 266h3v1h-3zM423 265h1v1h-1zM423 267h1v1h-1zM428 262h3v1h-3zM429 261h1v1h-1zM429 263h1v1h-1zM430 259h3v1h-3zM431 258h1v1h-1zM431 260h1v1h-1zM431 262h3v1h-3zM432 263h1v1h-1zM433 234h1v1h-1zM432 235h3v1h-3zM434 243h3v1h-3zM435 242h1v1h-1zM435 244h1v1h-1zM434 245h3v1h-3zM435 246h1v1h-1zM435 244h3v1h-3zM436 243h1v1h-1zM436 245h1v1h-1zM435 256h3v1h-3zM436 255h1v1h-1zM436 257h1v1h-1zM435 240h3v1h-3zM436 239h1v1h-1zM436 241h1v1h-1zM439 253h1v3h-1zM440 254h1v1h-1zM439 244h3v1h-3zM440 243h1v1h-1zM440 245h1v1h-1zM441 241h3v1h-3zM442 240h1v1h-1zM442 242h1v1h-1zM442 250h1v1h-1zM441 251h3v1h-3zM445 236h3v1h-3zM446 235h1v1h-1zM446 237h1v1h-1zM450 244h1v3h-1zM451 245h1v1h-1zM451 253h3v1h-3zM452 252h1v1h-1zM452 254h1v1h-1zM452 232h1v1h-1zM453 231h1v3h-1zM454 243h3v1h-3zM455 242h1v1h-1zM455 244h1v1h-1zM455 235h3v1h-3zM456 234h1v1h-1zM456 236h1v1h-1zM458 156h1v3h-1zM459 157h1v1h-1zM456 163h3v1h-3zM457 162h1v1h-1zM457 164h1v1h-1zM457 168h3v1h-3zM458 169h1v1h-1zM453 168h3v1h-3zM454 169h1v1h-1zM458 170h1v3h-1zM459 171h1v1h-1zM457 175h3v1h-3zM458 174h1v1h-1zM458 176h1v1h-1zM457 176h3v1h-3zM458 177h1v1h-1zM449 175h3v1h-3zM450 176h1v1h-1zM457 180h1v1h-1zM458 179h1v3h-1zM454 180h1v1h-1zM455 179h1v3h-1zM446 181h1v1h-1zM445 182h3v1h-3zM458 190h1v3h-1zM459 191h1v1h-1zM456 197h3v1h-3zM457 196h1v1h-1zM457 198h1v1h-1zM450 198h3v1h-3zM451 197h1v1h-1zM451 199h1v1h-1zM457 199h3v1h-3zM458 198h1v1h-1zM458 200h1v1h-1zM450 201h1v3h-1zM451 202h1v1h-1zM441 204h3v1h-3zM442 203h1v1h-1zM442 205h1v1h-1zM457 207h3v1h-3zM458 208h1v1h-1zM442 208h1v1h-1zM443 207h1v3h-1zM447 210h3v1h-3zM448 211h1v1h-1zM458 211h1v3h-1zM459 212h1v1h-1zM447 212h3v1h-3zM448 211h1v1h-1zM448 213h1v1h-1zM449 214h1v1h-1zM450 213h1v3h-1zM451 214h1v1h-1zM452 213h1v3h-1zM454 215h3v1h-3zM455 214h1v1h-1zM455 216h1v1h-1zM458 217h1v3h-1zM459 218h1v1h-1zM444 218h3v1h-3zM445 219h1v1h-1zM455 219h3v1h-3zM456 220h1v1h-1zM447 219h3v1h-3zM448 220h1v1h-1zM432 226h3v1h-3zM433 225h1v1h-1zM433 227h1v1h-1zM430 227h3v1h-3zM431 228h1v1h-1zM458 229h1v3h-1zM459 230h1v1h-1zM457 233h1v1h-1zM458 232h1v3h-1zM433 234h3v1h-3zM434 233h1v1h-1zM434 235h1v1h-1zM450 233h3v1h-3zM451 232h1v1h-1zM451 234h1v1h-1zM452 232h1v3h-1zM453 233h1v1h-1zM444 233h3v1h-3zM445 234h1v1h-1zM431 235h3v1h-3zM432 234h1v1h-1zM432 236h1v1h-1zM452 237h3v1h-3zM453 238h1v1h-1zM453 237h1v1h-1zM452 238h3v1h-3zM454 239h3v1h-3zM455 238h1v1h-1zM455 240h1v1h-1zM421 239h3v1h-3zM422 238h1v1h-1zM422 240h1v1h-1zM456 241h3v1h-3zM457 242h1v1h-1zM424 243h1v1h-1zM423 244h3v1h-3zM454 244h3v1h-3zM455 243h1v1h-1zM455 245h1v1h-1zM432 245h3v1h-3zM433 246h1v1h-1zM457 246h3v1h-3zM458 245h1v1h-1zM458 247h1v1h-1zM425 246h1v3h-1zM426 247h1v1h-1zM423 248h3v1h-3zM424 247h1v1h-1zM424 249h1v1h-1zM424 248h3v1h-3zM425 249h1v1h-1zM439 249h1v3h-1zM440 250h1v1h-1zM432 250h1v1h-1zM431 251h3v1h-3zM449 253h3v1h-3zM450 252h1v1h-1zM450 254h1v1h-1zM439 254h1v3h-1zM440 255h1v1h-1zM458 255h1v3h-1zM459 256h1v1h-1zM292 170h1v1h-1zM291 171h3v1h-3zM345 155h1v1h-1zM346 154h1v3h-1zM440 106h3v1h-3zM441 107h1v1h-1zM454 117h1v3h-1zM455 118h1v1h-1zM237 272h3v1h-3zM238 271h1v1h-1zM238 273h1v1h-1z"/><path fill="rgb(80,0,190)" d="M214 323h3v1h-3zM215 322h1v1h-1zM215 324h1v1h-1zM251 321h3v1h-3zM252 320h1v1h-1zM252 322h1v1h-1zM254 320h3v1h-3zM255 319h1v1h-1zM255 321h1v1h-1zM277 319h3v1h-3zM278 318h1v1h-1zM278 320h1v1h-1zM321 310h3v1h-3zM322 309h1v1h-1zM322 311h1v1h-1zM328 307h3v1h-3zM329 306h1v1h-1zM329 308h1v1h-1zM347 303h3v1h-3zM348 302h1v1h-1zM348 304h1v1h-1zM372 293h3v1h-3zM373 294h1v1h-1zM208 315h1v1h-1zM207 316h3v1h-3zM211 311h1v3h-1zM212 312h1v1h-1zM212 306h3v1h-3zM213 305h1v1h-1zM213 307h1v1h-1zM214 322h1v1h-1zM213 323h3v1h-3zM221 320h3v1h-3zM222 321h1v1h-1zM254 317h1v3h-1zM255 318h1v1h-1zM256 302h3v1h-3zM257 301h1v1h-1zM257 303h1v1h-1zM270 315h3v1h-3zM271 314h1v1h-1zM271 316h1v1h-1zM289 308h1v1h-1zM288 309h3v1h-3zM299 306h3v1h-3zM300 305h1v1h-1zM300 307h1v1h-1zM307 309h1v1h-1zM308 308h1v3h-1zM338 301h3v1h-3zM339 302h1v1h-1zM348 287h1v3h-1zM349 288h1v1h-1zM356 281h3v1h-3zM357 280h1v1h-1zM357 282h1v1h-1zM369 282h1v1h-1zM368 283h3v1h-3zM372 293h1v3h-1zM373 294h1v1h-1zM380 283h3v1h-3zM381 284h1v1h-1zM384 279h1v3h-1zM385 280h1v1h-1zM391 281h3v1h-3zM392 282h1v1h-1zM395 272h1v1h-1zM394 273h3v1h-3zM403 276h3v1h-3zM404 277h1v1h-1zM404 260h3v1h-3zM405 259h1v1h-1zM405 261h1v1h-1zM405 268h3v1h-3zM406 269h1v1h-1zM430 256h3v1h-3zM431 255h1v1h-1zM431 257h1v1h-1zM449 255h1v1h-1zM448 256h3v1h-3zM457 151h1v1h-1zM456 152h3v1h-3zM457 164h1v3h-1zM458 165h1v1h-1zM443 177h3v1h-3zM444 176h1v1h-1zM444 178h1v1h-1zM445 179h1v3h-1zM446 180h1v1h-1zM456 182h1v1h-1zM457 181h1v3h-1zM453 186h3v1h-3zM454 187h1v1h-1zM457 195h1v3h-1zM458 196h1v1h-1zM457 224h1v3h-1zM458 225h1v1h-1zM457 228h3v1h-3zM458 227h1v1h-1zM458 229h1v1h-1zM421 246h3v1h-3zM422 245h1v1h-1zM422 247h1v1h-1zM438 249h3v1h-3zM439 248h1v1h-1zM439 250h1v1h-1zM431 247h3v1h-3zM432 246h1v1h-1zM432 248h1v1h-1zM428 280h1v1h-1zM427 281h3v1h-3zM430 281h1v1h-1zM431 280h1v3h-1zM488 141h1v1h-1zM487 142h3v1h-3zM479 181h3v1h-3zM480 182h1v1h-1zM481 195h3v1h-3zM482 194h1v1h-1zM482 196h1v1h-1zM481 195h1v1h-1zM480 196h3v1h-3zM481 213h3v1h-3zM482 214h1v1h-1zM478 235h3v1h-3zM479 236h1v1h-1zM310 163h1v3h-1zM311 164h1v1h-1zM317 161h1v3h-1zM318 162h1v1h-1zM318 164h3v1h-3zM319 163h1v1h-1zM319 165h1v1h-1zM341 155h3v1h-3zM342 154h1v1h-1zM342 156h1v1h-1zM431 99h1v1h-1zM432 98h1v3h-1zM661 132h1v1h-1zM662 131h1v3h-1zM535 233h1v1h-1zM536 232h1v3h-1zM382 526h1v1h-1zM381 527h3v1h-3zM116 521h1v1h-1zM117 520h1v3h-1zM216 265h1v1h-1zM217 264h1v3h-1zM231 269h1v1h-1zM232 268h1v3h-1zM235 277h3v1h-3zM236 278h1v1h-1zM338 283h1v1h-1zM339 282h1v3h-1zM492 216h3v1h-3zM493 215h1v1h-1zM493 217h1v1h-1zM473 242h1v1h-1zM474 241h1v3h-1zM481 240h1v1h-1zM482 239h1v3h-1z"/><path fill="rgb(255,170,0)" d="M199 310h3v1h-3zM200 309h1v1h-1zM200 311h1v1h-1zM206 318h1v3h-1zM207 319h1v1h-1zM220 323h1v1h-1zM219 324h3v1h-3zM231 309h1v1h-1zM232 308h1v3h-1zM284 295h1v1h-1zM283 296h3v1h-3zM300 307h1v1h-1zM301 306h1v3h-1zM303 307h1v1h-1zM304 306h1v3h-1zM315 297h1v3h-1zM316 298h1v1h-1zM328 286h3v1h-3zM329 285h1v1h-1zM329 287h1v1h-1zM383 288h3v1h-3zM384 287h1v1h-1zM384 289h1v1h-1zM440 212h3v1h-3zM441 211h1v1h-1zM441 213h1v1h-1zM451 236h1v1h-1zM450 237h3v1h-3zM445 241h3v1h-3zM446 240h1v1h-1zM446 242h1v1h-1zM423 244h3v1h-3zM424 245h1v1h-1zM395 290h3v1h-3zM396 291h1v1h-1zM398 287h3v1h-3zM399 288h1v1h-1zM401 290h3v1h-3zM402 291h1v1h-1zM406 285h1v3h-1zM407 286h1v1h-1zM407 282h1v1h-1zM408 281h1v3h-1zM409 280h1v1h-1zM408 281h3v1h-3zM412 286h3v1h-3zM413 287h1v1h-1zM413 287h1v1h-1zM414 286h1v3h-1zM415 286h1v3h-1zM416 287h1v1h-1zM417 284h1v1h-1zM418 283h1v3h-1zM419 281h3v1h-3zM420 280h1v1h-1zM420 282h1v1h-1zM420 284h1v1h-1zM419 285h3v1h-3zM420 282h3v1h-3zM421 283h1v1h-1zM423 278h3v1h-3zM424 279h1v1h-1zM427 281h1v3h-1zM428 282h1v1h-1zM433 278h3v1h-3zM434 277h1v1h-1zM434 279h1v1h-1zM435 278h3v1h-3zM436 277h1v1h-1zM436 279h1v1h-1zM436 269h3v1h-3zM437 270h1v1h-1zM438 272h3v1h-3zM439 271h1v1h-1zM439 273h1v1h-1zM440 272h3v1h-3zM441 273h1v1h-1zM450 267h3v1h-3zM451 266h1v1h-1zM451 268h1v1h-1zM458 258h3v1h-3zM459 257h1v1h-1zM459 259h1v1h-1zM485 143h3v1h-3zM486 144h1v1h-1zM489 163h1v1h-1zM488 164h3v1h-3zM483 171h1v1h-1zM482 172h3v1h-3zM486 182h3v1h-3zM487 181h1v1h-1zM487 183h1v1h-1zM481 183h3v1h-3zM482 184h1v1h-1zM492 185h1v3h-1zM493 186h1v1h-1zM488 202h3v1h-3zM489 203h1v1h-1zM481 206h1v3h-1zM482 207h1v1h-1zM474 215h3v1h-3zM475 214h1v1h-1zM475 216h1v1h-1zM480 216h3v1h-3zM481 217h1v1h-1zM479 221h1v3h-1zM480 222h1v1h-1zM481 224h3v1h-3zM482 223h1v1h-1zM482 225h1v1h-1zM479 226h3v1h-3zM480 225h1v1h-1zM480 227h1v1h-1zM476 229h3v1h-3zM477 230h1v1h-1zM284 161h3v1h-3zM285 162h1v1h-1zM389 153h1v1h-1zM388 154h3v1h-3zM440 101h3v1h-3zM441 100h1v1h-1zM441 102h1v1h-1zM388 154h3v1h-3zM389 153h1v1h-1zM389 155h1v1h-1zM649 95h1v3h-1zM650 96h1v1h-1zM603 117h3v1h-3zM604 116h1v1h-1zM604 118h1v1h-1zM189 346h1v1h-1zM188 347h3v1h-3zM213 282h3v1h-3zM214 281h1v1h-1zM214 283h1v1h-1zM196 305h3v1h-3zM197 304h1v1h-1zM197 306h1v1h-1zM198 306h3v1h-3zM199 305h1v1h-1zM199 307h1v1h-1zM200 305h3v1h-3zM201 304h1v1h-1zM201 306h1v1h-1zM197 320h3v1h-3zM198 319h1v1h-1zM198 321h1v1h-1zM199 321h3v1h-3zM200 320h1v1h-1zM200 322h1v1h-1zM200 322h3v1h-3zM201 321h1v1h-1zM201 323h1v1h-1zM209 323h3v1h-3zM210 322h1v1h-1zM210 324h1v1h-1zM476 245h3v1h-3zM477 244h1v1h-1zM477 246h1v1h-1z"/><path fill="rgb(0,160,255)" d="M199 324h3v1h-3zM200 323h1v1h-1zM200 325h1v1h-1zM214 308h1v3h-1zM215 309h1v1h-1zM217 320h1v3h-1zM218 321h1v1h-1zM216 323h3v1h-3zM217 322h1v1h-1zM217 324h1v1h-1zM243 321h1v3h-1zM244 322h1v1h-1zM245 319h1v3h-1zM246 320h1v1h-1zM246 301h3v1h-3zM247 300h1v1h-1zM247 302h1v1h-1zM251 306h1v1h-1zM250 307h3v1h-3zM257 311h1v1h-1zM258 310h1v3h-1zM264 313h3v1h-3zM265 312h1v1h-1zM265 314h1v1h-1zM268 309h1v1h-1zM267 310h3v1h-3zM274 306h1v3h-1zM275 307h1v1h-1zM275 305h3v1h-3zM276 304h1v1h-1zM276 306h1v1h-1zM277 299h3v1h-3zM278 300h1v1h-1zM288 314h3v1h-3zM289 315h1v1h-1zM293 297h3v1h-3zM294 296h1v1h-1zM294 298h1v1h-1zM295 312h1v3h-1zM296 313h1v1h-1zM297 303h3v1h-3zM298 302h1v1h-1zM298 304h1v1h-1zM302 301h3v1h-3zM303 302h1v1h-1zM319 293h1v3h-1zM320 294h1v1h-1zM326 284h1v1h-1zM327 283h1v3h-1zM328 293h1v1h-1zM327 294h3v1h-3zM336 294h3v1h-3zM337 295h1v1h-1zM351 283h1v1h-1zM350 284h3v1h-3zM356 299h1v3h-1zM357 300h1v1h-1zM357 297h3v1h-3zM358 298h1v1h-1zM362 284h1v3h-1zM363 285h1v1h-1zM363 292h1v1h-1zM362 293h3v1h-3zM368 287h3v1h-3zM369 288h1v1h-1zM377 287h1v1h-1zM378 286h1v3h-1zM395 279h3v1h-3zM396 278h1v1h-1zM396 280h1v1h-1zM411 254h1v1h-1zM412 253h1v3h-1zM414 269h1v1h-1zM413 270h3v1h-3zM415 260h1v1h-1zM416 259h1v3h-1zM419 255h1v1h-1zM420 254h1v3h-1zM423 263h3v1h-3zM424 262h1v1h-1zM424 264h1v1h-1zM425 268h3v1h-3zM426 267h1v1h-1zM426 269h1v1h-1zM436 241h3v1h-3zM437 240h1v1h-1zM437 242h1v1h-1zM451 232h1v1h-1zM452 231h1v3h-1zM458 230h1v1h-1zM457 231h3v1h-3zM450 164h3v1h-3zM451 165h1v1h-1zM457 166h1v3h-1zM458 167h1v1h-1zM453 166h1v3h-1zM454 167h1v1h-1zM453 185h3v1h-3zM454 184h1v1h-1zM454 186h1v1h-1zM453 187h3v1h-3zM454 188h1v1h-1zM457 192h1v3h-1zM458 193h1v1h-1zM448 193h1v1h-1zM449 192h1v3h-1zM455 202h3v1h-3zM456 201h1v1h-1zM456 203h1v1h-1zM455 206h1v1h-1zM456 205h1v3h-1zM457 209h1v1h-1zM456 210h3v1h-3zM448 210h1v1h-1zM449 209h1v3h-1zM442 219h1v3h-1zM443 220h1v1h-1zM442 224h1v1h-1zM443 223h1v3h-1zM456 225h3v1h-3zM457 226h1v1h-1zM421 241h3v1h-3zM422 240h1v1h-1zM422 242h1v1h-1zM453 241h3v1h-3zM454 242h1v1h-1zM424 257h3v1h-3zM425 256h1v1h-1zM425 258h1v1h-1zM485 185h3v1h-3zM486 186h1v1h-1zM481 205h3v1h-3zM482 204h1v1h-1zM482 206h1v1h-1zM477 242h3v1h-3zM478 241h1v1h-1zM478 243h1v1h-1zM432 106h1v1h-1zM431 107h3v1h-3zM454 125h1v3h-1zM455 126h1v1h-1zM603 100h3v1h-3zM604 99h1v1h-1zM604 101h1v1h-1zM461 329h1v1h-1zM462 328h1v3h-1zM461 531h1v1h-1zM462 530h1v3h-1zM496 149h1v1h-1zM495 150h3v1h-3zM233 266h3v1h-3zM234 265h1v1h-1zM234 267h1v1h-1zM232 266h3v1h-3zM233 265h1v1h-1zM233 267h1v1h-1zM344 285h1v1h-1zM343 286h3v1h-3zM485 246h1v1h-1zM484 247h3v1h-3z"/><path fill="rgb(0,230,255)" d="M213 322h3v1h-3zM214 323h1v1h-1zM240 320h3v1h-3zM241 319h1v1h-1zM241 321h1v1h-1zM297 304h1v3h-1zM298 305h1v1h-1zM342 283h3v1h-3zM343 282h1v1h-1zM343 284h1v1h-1zM427 257h1v1h-1zM428 256h1v3h-1zM426 236h1v1h-1zM425 237h3v1h-3zM425 239h1v3h-1zM426 240h1v1h-1zM455 245h3v1h-3zM456 244h1v1h-1zM456 246h1v1h-1zM387 142h3v1h-3zM388 141h1v1h-1zM388 143h1v1h-1zM385 142h3v1h-3zM386 141h1v1h-1zM386 143h1v1h-1zM361 240h1v1h-1zM362 239h1v3h-1zM487 460h3v1h-3zM488 459h1v1h-1zM488 461h1v1h-1zM321 411h3v1h-3zM322 410h1v1h-1zM322 412h1v1h-1zM210 262h3v1h-3zM211 261h1v1h-1zM211 263h1v1h-1zM338 280h1v1h-1zM339 279h1v3h-1zM341 284h3v1h-3zM342 283h1v1h-1zM342 285h1v1h-1z"/><path fill="rgb(255,255,0)" d="M386 292h3v1h-3zM387 293h1v1h-1zM387 295h3v1h-3zM388 294h1v1h-1zM388 296h1v1h-1zM391 289h1v1h-1zM390 290h3v1h-3zM391 292h3v1h-3zM392 293h1v1h-1zM392 289h1v1h-1zM391 290h3v1h-3zM392 291h3v1h-3zM393 290h1v1h-1zM393 292h1v1h-1zM393 292h1v1h-1zM394 291h1v3h-1zM395 289h3v1h-3zM396 288h1v1h-1zM396 290h1v1h-1zM396 288h3v1h-3zM397 289h1v1h-1zM396 289h1v1h-1zM397 288h1v3h-1zM400 287h3v1h-3zM401 288h1v1h-1zM400 288h1v1h-1zM401 287h1v3h-1zM403 286h1v1h-1zM402 287h3v1h-3zM407 282h1v3h-1zM408 283h1v1h-1zM407 283h1v1h-1zM406 284h3v1h-3zM410 281h3v1h-3zM411 280h1v1h-1zM411 282h1v1h-1zM410 283h3v1h-3zM411 282h1v1h-1zM411 284h1v1h-1zM410 285h3v1h-3zM411 284h1v1h-1zM411 286h1v1h-1zM417 280h1v1h-1zM416 281h3v1h-3zM419 281h3v1h-3zM420 280h1v1h-1zM420 282h1v1h-1zM420 285h3v1h-3zM421 284h1v1h-1zM421 286h1v1h-1zM425 276h3v1h-3zM426 275h1v1h-1zM426 277h1v1h-1zM426 283h3v1h-3zM427 282h1v1h-1zM427 284h1v1h-1zM429 273h1v3h-1zM430 274h1v1h-1zM429 276h3v1h-3zM430 275h1v1h-1zM430 277h1v1h-1zM431 274h1v1h-1zM430 275h3v1h-3zM434 273h3v1h-3zM435 272h1v1h-1zM435 274h1v1h-1zM435 271h3v1h-3zM436 272h1v1h-1zM440 272h3v1h-3zM441 273h1v1h-1zM442 274h1v3h-1zM443 275h1v1h-1zM442 269h3v1h-3zM443 268h1v1h-1zM443 270h1v1h-1zM443 266h3v1h-3zM444 265h1v1h-1zM444 267h1v1h-1zM447 269h1v3h-1zM448 270h1v1h-1zM453 256h1v3h-1zM454 257h1v1h-1zM454 257h1v1h-1zM453 258h3v1h-3zM459 253h3v1h-3zM460 254h1v1h-1zM460 258h3v1h-3zM461 257h1v1h-1zM461 259h1v1h-1zM487 106h3v1h-3zM488 107h1v1h-1zM489 125h1v3h-1zM490 126h1v1h-1zM486 136h1v3h-1zM487 137h1v1h-1zM488 145h3v1h-3zM489 146h1v1h-1zM486 150h3v1h-3zM487 151h1v1h-1zM485 174h1v3h-1zM486 175h1v1h-1zM488 174h1v3h-1zM489 175h1v1h-1zM479 189h3v1h-3zM480 188h1v1h-1zM480 190h1v1h-1zM491 194h1v3h-1zM492 195h1v1h-1zM483 195h1v1h-1zM482 196h3v1h-3zM482 197h1v3h-1zM483 198h1v1h-1zM487 200h3v1h-3zM488 201h1v1h-1zM478 203h3v1h-3zM479 202h1v1h-1zM479 204h1v1h-1zM489 211h1v1h-1zM488 212h3v1h-3zM486 219h3v1h-3zM487 220h1v1h-1zM474 228h1v1h-1zM475 227h1v3h-1zM474 229h1v1h-1zM473 230h3v1h-3zM481 236h1v1h-1zM482 235h1v3h-1zM481 241h1v3h-1zM482 242h1v1h-1zM321 177h3v1h-3zM322 176h1v1h-1zM322 178h1v1h-1zM381 96h3v1h-3zM382 95h1v1h-1zM382 97h1v1h-1zM527 238h1v3h-1zM528 239h1v1h-1zM495 307h3v1h-3zM496 306h1v1h-1zM496 308h1v1h-1zM466 241h3v1h-3zM467 240h1v1h-1zM467 242h1v1h-1zM465 243h3v1h-3zM466 242h1v1h-1zM466 244h1v1h-1zM491 206h3v1h-3zM492 205h1v1h-1zM492 207h1v1h-1zM253 344h1v1h-1zM254 343h1v3h-1zM106 489h3v1h-3zM107 488h1v1h-1zM107 490h1v1h-1zM165 290h1v3h-1zM166 291h1v1h-1zM215 306h3v1h-3zM216 305h1v1h-1zM216 307h1v1h-1zM207 326h3v1h-3zM208 325h1v1h-1zM208 327h1v1h-1z"/><path fill="rgb(255,110,0)" d="M386 295h3v1h-3zM387 296h1v1h-1zM401 286h3v1h-3zM402 285h1v1h-1zM402 287h1v1h-1zM404 286h1v1h-1zM403 287h3v1h-3zM412 282h1v1h-1zM413 281h1v3h-1zM426 278h1v3h-1zM427 279h1v1h-1zM487 117h3v1h-3zM488 116h1v1h-1zM488 118h1v1h-1zM486 139h1v1h-1zM485 140h3v1h-3zM478 239h3v1h-3zM479 238h1v1h-1zM479 240h1v1h-1zM165 335h3v1h-3zM166 336h1v1h-1zM497 215h1v1h-1zM498 214h1v3h-1z"/><path fill="rgb(190,255,0)" d="M387 294h3v1h-3zM388 293h1v1h-1zM388 295h1v1h-1zM388 295h3v1h-3zM389 294h1v1h-1zM389 296h1v1h-1zM389 293h1v3h-1zM390 294h1v1h-1zM390 291h3v1h-3zM391 290h1v1h-1zM391 292h1v1h-1zM398 291h1v1h-1zM397 292h3v1h-3zM403 289h1v1h-1zM404 288h1v3h-1zM406 283h1v1h-1zM405 284h3v1h-3zM407 283h3v1h-3zM408 282h1v1h-1zM408 284h1v1h-1zM408 287h3v1h-3zM409 288h1v1h-1zM413 281h1v1h-1zM414 280h1v3h-1zM416 285h1v3h-1zM417 286h1v1h-1zM418 277h1v1h-1zM417 278h3v1h-3zM423 280h1v3h-1zM424 281h1v1h-1zM422 277h3v1h-3zM423 276h1v1h-1zM423 278h1v1h-1zM429 274h1v3h-1zM430 275h1v1h-1zM431 279h3v1h-3zM432 280h1v1h-1zM433 276h3v1h-3zM434 275h1v1h-1zM434 277h1v1h-1zM439 271h1v1h-1zM440 270h1v3h-1zM442 266h3v1h-3zM443 265h1v1h-1zM443 267h1v1h-1zM444 266h1v1h-1zM443 267h3v1h-3zM446 271h3v1h-3zM447 270h1v1h-1zM447 272h1v1h-1zM447 260h3v1h-3zM448 261h1v1h-1zM448 266h1v1h-1zM449 265h1v3h-1zM449 265h1v1h-1zM450 264h1v3h-1zM453 259h1v1h-1zM452 260h3v1h-3zM454 263h1v1h-1zM455 262h1v3h-1zM455 258h3v1h-3zM456 257h1v1h-1zM456 259h1v1h-1zM456 261h3v1h-3zM457 260h1v1h-1zM457 262h1v1h-1zM488 135h1v1h-1zM489 134h1v3h-1zM486 148h3v1h-3zM487 147h1v1h-1zM487 149h1v1h-1zM486 152h3v1h-3zM487 153h1v1h-1zM486 154h3v1h-3zM487 155h1v1h-1zM487 158h3v1h-3zM488 157h1v1h-1zM488 159h1v1h-1zM486 163h3v1h-3zM487 162h1v1h-1zM487 164h1v1h-1zM488 166h1v1h-1zM489 165h1v3h-1zM489 168h3v1h-3zM490 167h1v1h-1zM490 169h1v1h-1zM488 167h3v1h-3zM489 168h1v1h-1zM485 171h1v3h-1zM486 172h1v1h-1zM484 177h1v1h-1zM485 176h1v3h-1zM482 189h1v1h-1zM483 188h1v3h-1zM488 190h3v1h-3zM489 191h1v1h-1zM480 191h3v1h-3zM481 190h1v1h-1zM481 192h1v1h-1zM482 197h3v1h-3zM483 198h1v1h-1zM480 214h1v1h-1zM479 215h3v1h-3zM487 220h3v1h-3zM488 219h1v1h-1zM488 221h1v1h-1zM484 225h3v1h-3zM485 226h1v1h-1zM481 233h1v1h-1zM482 232h1v3h-1zM476 235h1v1h-1zM477 234h1v3h-1zM481 244h1v1h-1zM482 243h1v3h-1zM478 244h3v1h-3zM479 243h1v1h-1zM479 245h1v1h-1zM484 246h3v1h-3zM485 245h1v1h-1zM485 247h1v1h-1zM483 247h1v3h-1zM484 248h1v1h-1zM130 184h3v1h-3zM131 183h1v1h-1zM131 185h1v1h-1zM130 241h3v1h-3zM131 240h1v1h-1zM131 242h1v1h-1zM416 88h1v3h-1zM417 89h1v1h-1zM491 112h1v3h-1zM492 113h1v1h-1zM197 310h3v1h-3zM198 309h1v1h-1zM198 311h1v1h-1z"/><path fill="rgb(60,255,0)" d="M446 272h1v3h-1zM447 273h1v1h-1zM488 122h1v1h-1zM489 121h1v3h-1zM490 170h1v1h-1zM491 169h1v3h-1zM483 169h3v1h-3zM484 170h1v1h-1zM488 180h3v1h-3zM489 179h1v1h-1zM489 181h1v1h-1zM482 184h3v1h-3zM483 183h1v1h-1zM483 185h1v1h-1zM491 192h3v1h-3zM492 193h1v1h-1zM486 200h3v1h-3zM487 201h1v1h-1zM487 208h1v1h-1zM486 209h3v1h-3zM487 224h1v1h-1zM488 223h1v3h-1zM481 227h1v1h-1zM480 228h3v1h-3zM288 178h3v1h-3zM289 177h1v1h-1zM289 179h1v1h-1zM376 129h3v1h-3zM377 128h1v1h-1zM377 130h1v1h-1zM603 165h3v1h-3zM604 164h1v1h-1zM604 166h1v1h-1zM340 277h3v1h-3zM341 276h1v1h-1zM341 278h1v1h-1z"/><path fill="rgb(255,30,0)" d="M486 155h1v1h-1zM485 156h3v1h-3zM351 149h3v1h-3zM352 150h1v1h-1zM361 124h1v1h-1zM362 123h1v3h-1zM603 131h3v1h-3zM604 132h1v1h-1zM603 475h3v1h-3zM604 474h1v1h-1zM604 476h1v1h-1zM490 217h3v1h-3zM491 216h1v1h-1zM491 218h1v1h-1zM459 278h3v1h-3zM460 279h1v1h-1z"/></g><text x="76.5" y="67" font-size="11" text-anchor="end" textLength="19.5" lengthAdjust="spacingAndGlyphs" >750</text><text x="76.5" y="111" font-size="11" text-anchor="end" textLength="19.5" lengthAdjust="spacingAndGlyphs" >600</text><text x="76.5" y="149" font-size="11" text-anchor="end" textLength="19.5" lengthAdjust="spacingAndGlyphs" >500</text><text x="76.5" y="195" font-size="11" text-anchor="end" textLength="19.5" lengthAdjust="spacingAndGlyphs" >400</text><text x="76.5" y="255" font-size="11" text-anchor="end" textLength="19.5" lengthAdjust="spacingAndGlyphs" >300</text><text x="76.5" y="340" font-size="11" text-anchor="end" textLength="19.5" lengthAdjust="spacingAndGlyphs" >200</text><text x="76.5" y="484" font-size="11" text-anchor="end" textLength="19.5" lengthAdjust="spacingAndGlyphs" >100</text><text x="76.5" y="540" font-size="11" text-anchor="end" textLength="12.5" lengthAdjust="spacingAndGlyphs" >75</text><text x="79.8" y="555" font-size="11" text-anchor="middle" >1</text><text x="229.8" y="555" font-size="11" text-anchor="middle" >2</text><text x="379.8" y="555" font-size="11" text-anchor="middle" >4</text><text x="467.8" y="555" font-size="11" text-anchor="middle" >6</text><text x="529.8" y="555" font-size="11" text-anchor="middle" >8</text><text x="577.8" y="555" font-size="11" text-anchor="middle" textLength="12.6" lengthAdjust="spacingAndGlyphs" >10</text><text x="679.8" y="555" font-size="11" text-anchor="middle" textLength="12.6" lengthAdjust="spacingAndGlyphs" >16</text><text x="335.5" y="567" font-size="11" text-anchor="start" textLength="88" lengthAdjust="spacingAndGlyphs" >Frequency [MHz]</text><text transform="translate(47.5,398.5) rotate(-90)" font-size="11.3" textLength="196" lengthAdjust="spacingAndGlyphs">Stationary phase Virtual Height [km]</text><text x="251" y="40" font-size="14" text-anchor="start" textLength="257" lengthAdjust="spacingAndGlyphs" >Tromsø 20130309 16:54:00−16:55:43</text><text x="333" y="52" font-size="14" text-anchor="start" textLength="94" lengthAdjust="spacingAndGlyphs" >RwPretec (8p)</text><text x="632" y="32" font-size="10" text-anchor="start" textLength="32.5" lengthAdjust="spacingAndGlyphs" >Phases</text><text x="609" y="43" font-size="10" text-anchor="start" textLength="116" lengthAdjust="spacingAndGlyphs" >mean, sd,O: −90.5, 16.2</text><text x="609" y="54" font-size="10" text-anchor="start" textLength="113" lengthAdjust="spacingAndGlyphs" >mean, sd,X:&#160; 91.8, 21.0</text><text y="85" font-size="14"><tspan x="717.3" font-size="16" y="84.6">[</tspan><tspan x="723.2" textLength="22.8" lengthAdjust="spacingAndGlyphs">deg</tspan><tspan x="746.6" font-size="16" y="84.6">]</tspan></text><text x="747.5" y="188" font-size="11" text-anchor="start" textLength="19.5" lengthAdjust="spacingAndGlyphs" >100</text><text x="747" y="304" font-size="11" text-anchor="start" >0</text><text x="747.5" y="421" font-size="11" text-anchor="start" textLength="27.5" lengthAdjust="spacingAndGlyphs" >−100</text><rect x="719" y="87" width="26" height="424" fill="url(#cb)" shape-rendering="crispEdges"/></svg></body></html>
